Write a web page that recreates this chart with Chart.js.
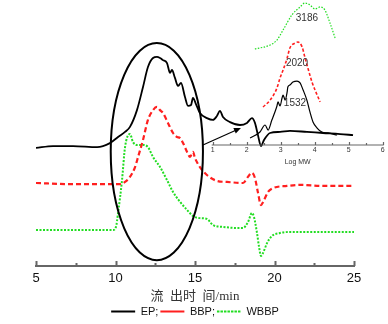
<!DOCTYPE html>
<html>
<head>
<meta charset="utf-8">
<script src="https://cdn.jsdelivr.net/npm/chart.js@4"></script>
<style>
  html, body { margin: 0; padding: 0; background: #fff; }
  #wrap { position: relative; width: 388px; height: 324px; }
  #gpc { position: absolute; left: 0; top: 0; }
  #mw { position: absolute; left: 200px; top: 0; }
</style>
</head>
<body>
<div id="wrap">
  <canvas id="gpc" width="388" height="324"></canvas>
  <canvas id="mw" width="188" height="166"></canvas>
</div>
<script>
'use strict';

// ── GPC traces: elution time (min) vs detector response (offset per sample) ──
const epTime = [5.00, 6.07, 7.33, 8.84, 9.65, 10.16, 10.60, 10.91, 11.35, 11.73, 12.04, 12.36,
  12.61, 12.80, 12.99, 13.24, 13.43, 13.55, 13.74, 13.93, 14.12, 14.37, 14.56, 14.75, 14.87,
  15.06, 15.31, 15.75, 16.13, 16.38, 16.57, 16.76, 17.20, 17.83, 18.27, 18.58, 18.77, 18.96,
  19.15, 19.34, 19.72, 20.35, 20.97, 22.04, 23.05, 24.12, 24.94];
const epSignal = [44.4, 45.1, 45.1, 44.7, 46.2, 48.5, 50.4, 52.3, 58.6, 67.3, 74.8, 78.2,
  78.6, 78.2, 77.4, 76.3, 72.6, 73.7, 70.7, 67.7, 68.8, 63.5, 60.2, 60.5, 63.2,
  60.9, 57.5, 55.6, 54.9, 56.4, 58.3, 56.0, 54.1, 53.0, 53.8, 55.6, 53.8, 49.2,
  45.1, 47.4, 50.0, 50.4, 50.8, 50.4, 50.0, 49.6, 49.2];

const bbpTime = [5.00, 7.14, 9.03, 10.28, 10.60, 10.91, 11.23, 11.42, 11.73, 12.04, 12.36, 12.61,
  12.80, 12.99, 13.30, 13.62, 13.87, 14.06, 14.25, 14.50, 14.69, 14.87, 15.00, 15.31, 15.75,
  16.38, 17.01, 18.02, 18.33, 18.58, 18.77, 18.96, 19.15, 19.28, 19.59, 19.91, 20.79, 21.60,
  23.05, 24.94];
const bbpSignal = [31.2, 30.8, 30.8, 30.8, 31.6, 33.5, 37.2, 41.0, 47.4, 54.9, 58.6, 59.8,
  58.6, 57.5, 53.8, 50.0, 48.5, 48.1, 46.2, 42.9, 41.0, 42.9, 40.6, 37.2, 34.2,
  32.0, 31.6, 31.2, 33.5, 35.0, 33.1, 27.6, 22.9, 24.0, 27.8, 29.3, 30.1, 30.5,
  30.1, 30.1];

const wbbpTime = [5.00, 7.77, 9.84, 10.03, 10.16, 10.41, 10.60, 10.91, 11.10, 11.35, 11.73, 12.04,
  12.36, 12.80, 13.24, 13.62, 14.06, 14.50, 14.87, 15.31, 15.75, 16.13, 16.76, 17.64, 18.02,
  18.33, 18.58, 18.71, 18.90, 19.03, 19.15, 19.28, 19.53, 19.84, 20.35, 20.97, 22.42, 25.00];
const wbbpSignal = [13.5, 13.5, 13.5, 14.7, 19.9, 32.3, 44.7, 49.6, 46.6, 45.5, 45.5, 44.7,
  41.0, 37.2, 32.3, 27.8, 24.1, 21.1, 18.8, 18.0, 17.7, 15.4, 14.7, 14.3, 14.3,
  16.5, 19.9, 18.4, 12.4, 7.1, 3.8, 4.9, 8.6, 11.3, 12.4, 12.8, 12.8, 12.8];

// ── Molecular weight distributions (inset) ──
const epLogMW = [2.10, 2.39, 2.54, 2.63, 2.74, 2.83, 2.89, 2.92, 2.98, 3.04, 3.07, 3.13, 3.19,
  3.21, 3.27, 3.36, 3.48, 3.57, 3.66, 3.77, 3.86, 3.95, 4.07, 4.21, 4.39, 4.66];
const epDist = [4.8, 9.0, 13.8, 10.3, 17.2, 22.8, 26.9, 29.7, 26.9, 32.4, 34.5, 31.0, 36.6,
  40.0, 41.4, 43.4, 44.1, 42.8, 37.9, 31.0, 22.8, 15.9, 11.7, 9.0, 8.3, 6.9];

const bbpLogMW = [2.48, 2.69, 2.89, 2.98, 3.07, 3.19, 3.27, 3.42, 3.51, 3.63, 3.71, 3.80, 3.92,
  4.01, 4.16];
const bbpDist = [26.2, 31.0, 39.3, 46.2, 51.7, 60.0, 66.9, 70.3, 71.0, 67.6, 60.7, 53.1, 43.4,
  37.9, 29.7];

const wbbpLogMW = [2.24, 2.69, 2.89, 3.07, 3.33, 3.57, 3.71, 3.86, 4.01, 4.16, 4.30, 4.45, 4.60];
const wbbpDist = [66.2, 69.0, 72.4, 79.3, 89.7, 95.2, 97.9, 96.6, 93.8, 95.2, 93.1, 84.1, 73.8];

// peak molecular weight labels: [text, logMW, height]
const mwLabels = [['3186', 3.77, 87.6], ['2020', 3.48, 56.6], ['1532', 3.42, 29.0]];

// highlighted elution window and pointer to the inset
const windowCenter = [12.6, 43.0];
const windowRadius = [2.9, 40.8];
const pointerFrom = [15.5, 45.5];
const pointerTo = [17.89, 51.9];

const RED = '#ff1f1f';
const GREEN = '#22dd22';

const zip = (xs, ys) => xs.map((x, i) => ({ x, y: ys[i] }));

// bottom axis with inward ticks, drawn by hand
function drawAxis(chart, step, majorEvery, majorLen, minorLen, width) {
  const { ctx, chartArea } = chart;
  const sx = chart.scales.x;
  const y = chartArea.bottom;
  ctx.save();
  ctx.strokeStyle = '#666';
  ctx.lineWidth = width;
  ctx.beginPath();
  ctx.moveTo(sx.getPixelForValue(sx.min) - 1, y);
  ctx.lineTo(sx.getPixelForValue(sx.max) + 1, y);
  for (let v = sx.min, i = 0; v <= sx.max + 1e-6; v += step, i++) {
    const px = Math.round(sx.getPixelForValue(v)) + 0.5;
    const len = i % majorEvery === 0 ? majorLen : minorLen;
    ctx.moveTo(px, y);
    ctx.lineTo(px, y - len);
  }
  ctx.stroke();
  ctx.restore();
}

const gpcExtras = {
  id: 'gpcExtras',
  afterDatasetsDraw(chart) {
    const { ctx } = chart;
    const sx = chart.scales.x, sy = chart.scales.y;
    drawAxis(chart, 2.5, 2, 5, 3, 2);

    // ellipse round the main elution peak
    const cx = sx.getPixelForValue(windowCenter[0]);
    const cy = sy.getPixelForValue(windowCenter[1]);
    const rx = sx.getPixelForValue(windowCenter[0] + windowRadius[0]) - cx;
    const ry = cy - sy.getPixelForValue(windowCenter[1] + windowRadius[1]);
    ctx.save();
    ctx.strokeStyle = '#000';
    ctx.lineWidth = 2;
    ctx.beginPath();
    ctx.ellipse(cx, cy, rx, ry, 0, 0, Math.PI * 2);
    ctx.stroke();

    // arrow
    const x0 = sx.getPixelForValue(pointerFrom[0]), y0 = sy.getPixelForValue(pointerFrom[1]);
    const x1 = sx.getPixelForValue(pointerTo[0]), y1 = sy.getPixelForValue(pointerTo[1]);
    const a = Math.atan2(y1 - y0, x1 - x0);
    ctx.lineWidth = 1.2;
    ctx.beginPath();
    ctx.moveTo(x0, y0);
    ctx.lineTo(x1 - 5 * Math.cos(a), y1 - 5 * Math.sin(a));
    ctx.stroke();
    ctx.fillStyle = '#000';
    ctx.beginPath();
    ctx.moveTo(x1, y1);
    ctx.lineTo(x1 - 7 * Math.cos(a) + 3 * Math.sin(a), y1 - 7 * Math.sin(a) - 3 * Math.cos(a));
    ctx.lineTo(x1 - 7 * Math.cos(a) - 3 * Math.sin(a), y1 - 7 * Math.sin(a) + 3 * Math.cos(a));
    ctx.closePath();
    ctx.fill();
    ctx.restore();
  }
};

const mwExtras = {
  id: 'mwExtras',
  afterDatasetsDraw(chart) {
    const { ctx } = chart;
    const sx = chart.scales.x, sy = chart.scales.y;
    drawAxis(chart, 0.5, 2, 3, 2, 1.2);
    ctx.save();
    ctx.font = '10px "Liberation Sans", Arial, sans-serif';
    ctx.fillStyle = '#333';
    ctx.textAlign = 'center';
    ctx.textBaseline = 'middle';
    for (const [txt, lx, ly] of mwLabels) {
      ctx.fillText(txt, sx.getPixelForValue(lx), sy.getPixelForValue(ly));
    }
    ctx.restore();
  }
};

new Chart(document.getElementById('gpc'), {
  type: 'line',
  plugins: [gpcExtras],
  data: {
    datasets: [
      { label: 'EP;', data: zip(epTime, epSignal), borderColor: '#000', backgroundColor: '#000',
        borderWidth: 1.8 },
      { label: 'BBP;', data: zip(bbpTime, bbpSignal), borderColor: RED, backgroundColor: RED,
        borderWidth: 2.2, borderDash: [5, 3] },
      { label: 'WBBP', data: zip(wbbpTime, wbbpSignal), borderColor: GREEN, backgroundColor: GREEN,
        borderWidth: 2, borderDash: [2, 1.5] },
    ]
  },
  options: {
    responsive: false,
    animation: false,
    events: [],
    layout: { padding: { left: 36, right: 34, top: 0, bottom: 0 } },
    elements: {
      point: { radius: 0 },
      line: { cubicInterpolationMode: 'monotone', fill: false }
    },
    scales: {
      x: {
        type: 'linear', min: 5, max: 25,
        grid: { display: false, drawTicks: false },
        border: { display: false },
        afterFit: (scale) => { scale.height = 38; },
        ticks: { stepSize: 5, padding: 5, color: '#111',
          font: { size: 13, family: '"Liberation Sans", Arial, sans-serif' } },
        title: { display: true, text: '流  出时  间/min', color: '#333',
          padding: { top: 0, bottom: 0 },
          font: { size: 13, family: '"Liberation Serif", "Noto Sans CJK SC", serif' } }
      },
      y: { type: 'linear', min: 0, max: 100, display: false }
    },
    plugins: {
      legend: {
        position: 'bottom',
        maxHeight: 20,
        labels: { boxWidth: 24, boxHeight: 0, padding: 2, color: '#111',
          font: { size: 11, family: '"Liberation Sans", Arial, sans-serif' } }
      },
      tooltip: { enabled: false }
    }
  }
});

new Chart(document.getElementById('mw'), {
  type: 'line',
  plugins: [mwExtras],
  data: {
    datasets: [
      { data: zip(wbbpLogMW, wbbpDist), borderColor: GREEN, borderWidth: 1.2, borderDash: [1.5, 1.5] },
      { data: zip(bbpLogMW, bbpDist), borderColor: RED, borderWidth: 1.6, borderDash: [3, 2] },
      { data: zip(epLogMW, epDist), borderColor: '#000', borderWidth: 1.2 },
    ]
  },
  options: {
    responsive: false,
    animation: false,
    events: [],
    layout: { padding: { left: 12.7, right: 5.3, top: 0, bottom: 0 } },
    elements: {
      point: { radius: 0 },
      line: { cubicInterpolationMode: 'monotone', fill: false }
    },
    scales: {
      x: {
        type: 'linear', min: 1, max: 6,
        grid: { display: false, drawTicks: false },
        border: { display: false },
        afterFit: (scale) => { scale.height = 21; },
        ticks: { stepSize: 1, padding: 1, color: '#333',
          font: { size: 7, family: '"Liberation Sans", Arial, sans-serif' } },
        title: { display: true, text: 'Log MW', color: '#333', padding: { top: 1, bottom: 0 },
          font: { size: 7, family: '"Liberation Sans", Arial, sans-serif' } }
      },
      y: { type: 'linear', min: 0, max: 100, display: false }
    },
    plugins: { legend: { display: false }, tooltip: { enabled: false } }
  }
});
</script>
</body>
</html>
